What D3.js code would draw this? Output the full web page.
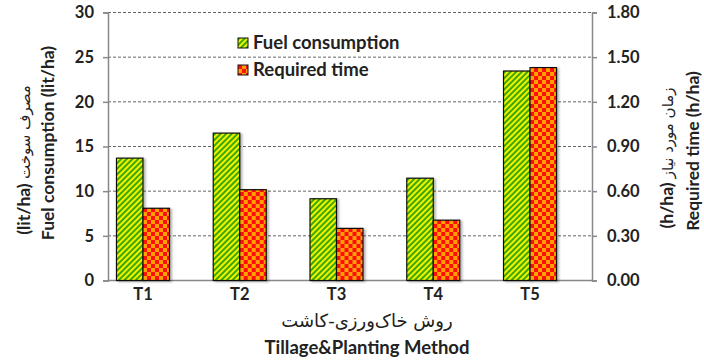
<!DOCTYPE html>
<html>
<head>
  <script src="https://d3js.org/d3.v7.min.js"></script>
  <style>
    body { margin: 0; background: #fff; }
    text { font-family: Lato, "DejaVu Sans", sans-serif; font-weight: bold; fill: #222; }
    .fa { font-family: "DejaVu Sans", sans-serif; font-weight: normal; }
  </style>
</head>
<body>
<svg width="704" height="361"></svg>
<script>
  // chart data
  const categories = ["T1", "T2", "T3", "T4", "T5"];
  const fuel = [13.7, 16.5, 9.15, 11.45, 23.45];       // lit/ha
  const time = [0.485, 0.61, 0.35, 0.405, 1.43];        // h/ha
  const fuelTicks = [0, 5, 10, 15, 20, 25, 30];
  const timeTicks = [0, 0.3, 0.6, 0.9, 1.2, 1.5, 1.8];

  const svg = d3.select("svg");
  const plotLeft = 108, plotRight = 592, plotTop = 12.5, plotBottom = 280.5;

  // patterns
  const defs = svg.append("defs");
  const stripe = defs.append("pattern")
    .attr("id", "stripe").attr("patternUnits", "userSpaceOnUse")
    .attr("width", 4).attr("height", 4)
    .attr("patternTransform", "rotate(45)");
  stripe.append("rect").attr("width", 4).attr("height", 4).attr("fill", "#f2f200");
  stripe.append("rect").attr("width", 2).attr("height", 4).attr("fill", "#3aa800");

  const checker = defs.append("pattern")
    .attr("id", "checker").attr("patternUnits", "userSpaceOnUse")
    .attr("width", 8).attr("height", 8);
  checker.append("rect").attr("width", 8).attr("height", 8).attr("fill", "#ffa200");
  checker.append("rect").attr("width", 4).attr("height", 4).attr("fill", "#ff1010");
  checker.append("rect").attr("x", 4).attr("y", 4).attr("width", 4).attr("height", 4).attr("fill", "#ff1010");

  const shadow = defs.append("filter").attr("id", "shadow")
    .attr("x", "-20%").attr("y", "-5%").attr("width", "150%").attr("height", "120%");
  shadow.append("feDropShadow").attr("dx", 2).attr("dy", 1).attr("stdDeviation", 1.2)
    .attr("flood-color", "#000").attr("flood-opacity", 0.3);

  // scales
  const x = d3.scaleBand().domain(categories).range([94.6, 578.4]).paddingInner(0).paddingOuter(0);
  const y = d3.scaleLinear().domain([0, 30]).range([plotBottom, plotTop]);
  const y2 = d3.scaleLinear().domain([0, 1.8]).range([plotBottom, plotTop]);
  const barW = 26.5;

  // gridlines
  svg.append("g").selectAll("line")
    .data(fuelTicks.filter(d => d > 0))
    .join("line")
      .attr("x1", plotLeft).attr("x2", plotRight)
      .attr("y1", d => y(d)).attr("y2", d => y(d))
      .attr("stroke", "#666").attr("stroke-width", 1)
      .attr("stroke-dasharray", "3,2");

  // left axis
  const axL = svg.append("g")
    .attr("transform", `translate(${plotLeft},0)`)
    .call(d3.axisLeft(y).tickValues(fuelTicks).tickSize(5).tickPadding(9));
  // right axis
  const axR = svg.append("g")
    .attr("transform", `translate(${plotRight},0)`)
    .call(d3.axisRight(y2).tickValues(timeTicks).tickFormat(d3.format(".2f")).tickSize(5).tickPadding(10));
  // bottom axis
  const axB = svg.append("g")
    .attr("transform", `translate(0,${plotBottom})`)
    .call(d3.axisBottom(x).tickSize(0).tickPadding(8));
  axB.select(".domain").attr("d", `M${plotLeft},0H${plotRight}`);

  [axL, axR, axB].forEach(a => {
    a.select(".domain").attr("stroke", "#888").attr("stroke-width", 1.5);
    a.selectAll(".tick line").attr("stroke", "#888").attr("stroke-width", 1.5);
    a.selectAll("text").attr("font-size", 16.5).attr("font-family", "Lato, sans-serif")
      .attr("font-weight", "bold").attr("fill", "#222");
  });

  // bars
  const groups = svg.append("g").selectAll("g")
    .data(categories)
    .join("g")
      .attr("transform", d => `translate(${x(d) + x.bandwidth() / 2},0)`);

  groups.append("rect")
    .attr("x", -barW).attr("width", barW)
    .attr("y", (d, i) => y(fuel[i])).attr("height", (d, i) => plotBottom - y(fuel[i]))
    .attr("fill", "url(#stripe)").attr("stroke", "#111").attr("stroke-width", 1.2)
    .attr("filter", "url(#shadow)");
  groups.append("rect")
    .attr("x", 0).attr("width", barW)
    .attr("y", (d, i) => y2(time[i])).attr("height", (d, i) => plotBottom - y2(time[i]))
    .attr("fill", "url(#checker)").attr("stroke", "#111").attr("stroke-width", 1.2)
    .attr("filter", "url(#shadow)");

  // legend
  const legend = [["Fuel consumption", "url(#stripe)"], ["Required time", "url(#checker)"]];
  const lg = svg.append("g").selectAll("g")
    .data(legend)
    .join("g")
      .attr("transform", (d, i) => `translate(238,${38 + i * 27})`);
  lg.append("rect").attr("width", 10).attr("height", 10)
    .attr("fill", d => d[1]).attr("stroke", "#111").attr("stroke-width", 1);
  lg.append("text").attr("x", 15).attr("y", 11)
    .attr("font-size", 18.5).text(d => d[0]);

  // axis titles (unit in bold latin, persian part in regular)
  function mixedTitle(tx, ty, unit, fa) {
    const t = svg.append("text")
      .attr("transform", `translate(${tx},${ty}) rotate(-90)`)
      .attr("text-anchor", "middle");
    t.append("tspan").attr("font-size", 17.5).text(unit + " ");
    t.append("tspan").attr("class", "fa").attr("font-size", 15).text(fa);
  }
  mixedTitle(30, 160, "(lit/ha)", "مصرف سوخت");
  svg.append("text")
    .attr("transform", "translate(54,143) rotate(-90)")
    .attr("text-anchor", "middle").attr("font-size", 17.5)
    .text("Fuel consumption (lit/ha)");
  mixedTitle(673, 158, "(h/ha)", "زمان مورد نیاز");
  svg.append("text")
    .attr("transform", "translate(699,151) rotate(-90)")
    .attr("text-anchor", "middle").attr("font-size", 17.5)
    .text("Required time (h/ha)");
  svg.append("text").attr("class", "fa")
    .attr("x", 367).attr("y", 327)
    .attr("text-anchor", "middle").attr("font-size", 18)
    .text("روش خاک‌ورزی-کاشت");
  svg.append("text")
    .attr("x", 367).attr("y", 354)
    .attr("text-anchor", "middle").attr("font-size", 18.5)
    .text("Tillage&Planting Method");
</script>
</body>
</html>
